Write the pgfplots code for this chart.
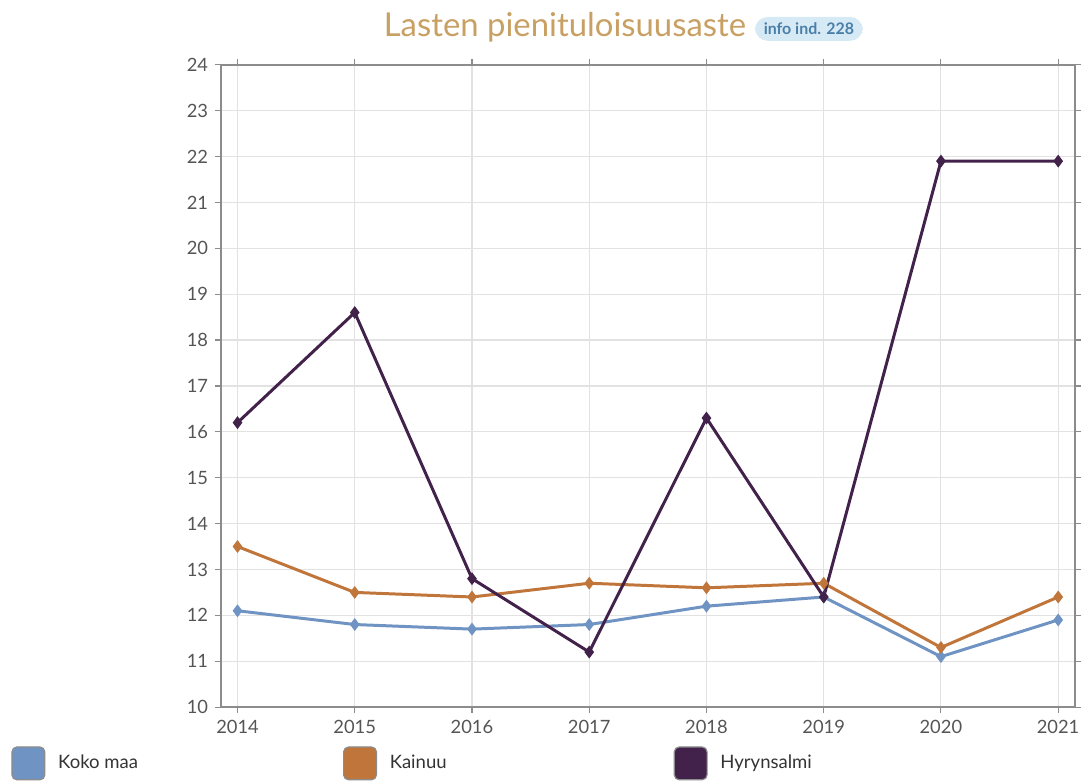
\documentclass[border=0pt]{standalone}
\usepackage{fontspec}
\setmainfont{Lato}
\usepackage{pgfplots}
\pgfplotsset{compat=1.18}

\definecolor{kokomaa}{HTML}{6F93C2}
\definecolor{kainuu}{HTML}{C0753A}
\definecolor{hyryn}{HTML}{42224A}
\definecolor{titlecol}{HTML}{C9A064}
\definecolor{badgebg}{HTML}{D6EAF5}
\definecolor{badgetx}{HTML}{4A7FA8}
\definecolor{gridcol}{HTML}{E2E2E2}
\definecolor{axcol}{HTML}{8C8C8C}
\definecolor{tickcol}{HTML}{555555}

\begin{document}
\begin{tikzpicture}
% canvas: reference pixels at 0.5pt each
\path (0,0) rectangle (543pt,391.5pt);
\begin{axis}[
    at={(111pt,36.5pt)}, anchor=south west,
    scale only axis, width=428.5pt, height=322.5pt,
    xmin=2013.86, xmax=2021.14, ymin=10, ymax=24,
    xtick={2014,...,2021},
    xticklabels={2014,2015,2016,2017,2018,2019,2020,2021},
    ytick={10,...,24},
    grid=major, major grid style={gridcol, line width=0.6pt},
    axis line style={axcol, line width=0.9pt},
    tick style={axcol, line width=0.6pt},
    tick align=outside, major tick length=3pt,
    ticklabel style={font=\fontsize{9.2}{11}\selectfont, text=tickcol},
    /pgf/number format/assume math mode=true,
    every axis plot/.append style={line width=1.5pt, mark=diamond*, mark size=2pt},
]
\addplot[kokomaa, mark options={fill=kokomaa}] coordinates {
    (2014,12.1) (2015,11.8) (2016,11.7) (2017,11.8) (2018,12.2) (2019,12.4) (2020,11.1) (2021,11.9)};
\addplot[kainuu, mark options={fill=kainuu}] coordinates {
    (2014,13.5) (2015,12.5) (2016,12.4) (2017,12.7) (2018,12.6) (2019,12.7) (2020,11.3) (2021,12.4)};
\addplot[hyryn, mark options={fill=hyryn}] coordinates {
    (2014,16.2) (2015,18.6) (2016,12.8) (2017,11.2) (2018,16.3) (2019,12.4) (2020,21.9) (2021,21.9)};
\end{axis}
% title
\node[anchor=base west, text=titlecol, inner sep=0pt, font=\fontsize{16.5}{19}\selectfont] (t) at (192.5pt,373pt) {Lasten pienituloisuusaste};
\node[anchor=west, fill=badgebg, rounded corners=6.5pt, inner xsep=4.5pt, inner ysep=3pt, text=badgetx,
      font=\bfseries\fontsize{8}{9.5}\selectfont] at ([xshift=4pt]t.east |- 0,377pt) {info ind. 228};
% legend
\foreach \x/\c/\n in {6/kokomaa/Koko maa, 172.5/kainuu/Kainuu, 338.5/hyryn/Hyrynsalmi}{
  \fill[\c, draw=axcol, line width=0.6pt, rounded corners=2.5pt] (\x pt,0pt) rectangle ++(16.5pt,16.5pt);
  \node[anchor=base west, inner sep=0pt, text=black!80, font=\fontsize{9.3}{11}\selectfont] at (\x pt+23pt,5.5pt) {\n};
}
\end{tikzpicture}
\end{document}
